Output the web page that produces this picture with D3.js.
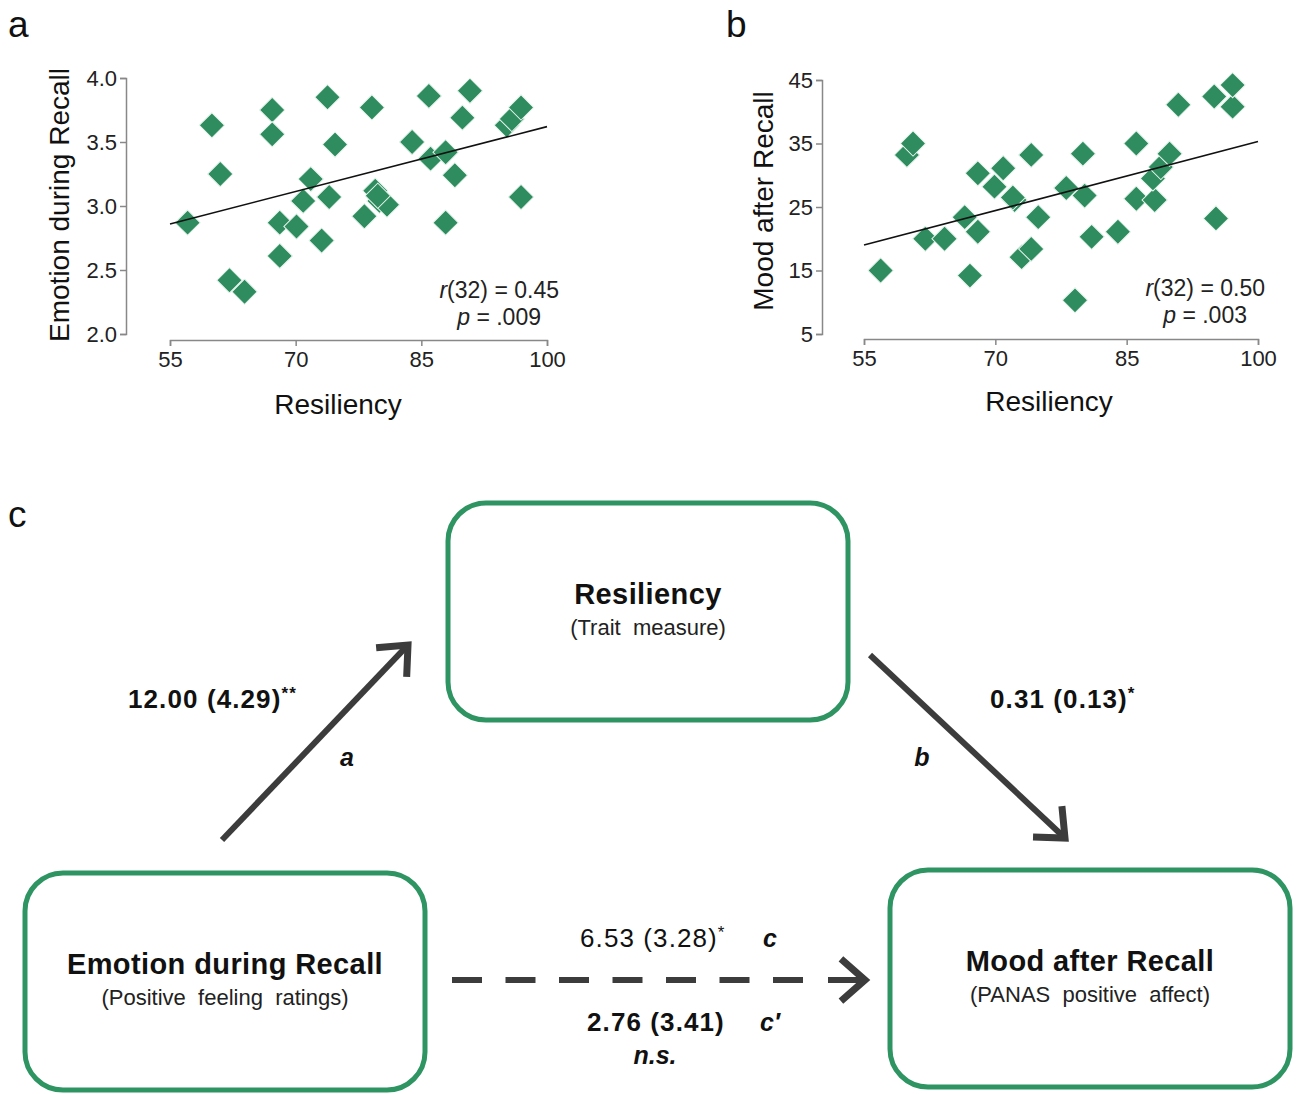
<!DOCTYPE html>
<html>
<head>
<meta charset="utf-8">
<script src="https://cdn.jsdelivr.net/npm/d3@7"></script>
<style>
  body { margin: 0; background: #fff; }
  svg { display: block; font-family: "Liberation Sans", Arial, sans-serif; }
</style>
</head>
<body>
<div id="chart"></div>
<script>
// panel a : resiliency vs emotion during recall
var resA = [57.1, 60.0, 61.0, 62.1, 63.9, 67.2, 67.2, 68.1, 68.1, 70.1, 70.9, 71.8, 73.1, 73.8, 74.0, 74.7, 78.2,
            79.1, 79.5, 80.0, 80.9, 79.8, 83.9, 85.9, 86.1, 87.9, 87.9, 89.0, 89.9, 90.8, 95.2, 95.8, 96.9, 96.9];
var emoA = [2.87, 3.63, 3.25, 2.42, 2.33, 3.75, 3.56, 2.87, 2.61, 2.84, 3.04, 3.21, 2.73, 3.85, 3.07, 3.48, 2.92,
            3.77, 3.12, 3.04, 3.01, 3.08, 3.50, 3.86, 3.37, 3.42, 2.87, 3.24, 3.69, 3.90, 3.63, 3.68, 3.77, 3.07];
// panel b : resiliency vs mood after recall
var resB = [56.9, 59.9, 60.6, 62.0, 64.2, 66.5, 67.1, 68.0, 68.0, 69.9, 70.9, 72.2, 73.0, 74.1, 74.1, 74.9, 78.1,
            79.1, 80.0, 80.2, 81.0, 84.0, 86.1, 86.1, 88.2, 88.0, 88.9, 89.9, 90.9, 95.2, 95.0, 97.1, 97.1, 72.0];
var moodB = [15.0, 33.2, 35.0, 20.0, 20.0, 23.4, 14.2, 30.3, 21.1, 28.2, 31.1, 26.1, 17.1, 18.4, 33.2, 23.4, 28.0,
             10.3, 33.4, 26.8, 20.3, 21.1, 35.0, 26.3, 26.1, 29.5, 31.3, 33.4, 41.1, 23.2, 42.4, 40.8, 44.2, 26.5];

var xTicks = [55, 70, 85, 100];
var yTicksA = [2.0, 2.5, 3.0, 3.5, 4.0];
var yTicksB = [5, 15, 25, 35, 45];
// fitted line, value at x = 55 and x = 100
var fitA = [2.86, 3.62];
var fitB = [19.0, 35.3];
var statsA = ["(32) = 0.45", " = .009"];
var statsB = ["(32) = 0.50", " = .003"];

// panel c : mediation model
var boxTitles = ["Resiliency", "Emotion during Recall", "Mood after Recall"];
var boxSubs = ["(Trait  measure)", "(Positive  feeling  ratings)", "(PANAS  positive  affect)"];
var pathA = ["12.00 (4.29)", "**", "a"];
var pathB = ["0.31 (0.13)", "*", "b"];
var pathC = ["6.53 (3.28)", "*", "c"];
var pathCp = ["2.76 (3.41)", "", "c\u2032", "n.s."];

var green = "#2e9462";
var dotGreen = "#2f8c5f";
var dark = "#3c3c3c";

var svg = d3.select("#chart").append("svg")
  .attr("width", 1298)
  .attr("height", 1094);

function scatter(cfg) {
  var g = svg.append("g");
  var x = d3.scaleLinear().domain([55, 100]).range(cfg.xr);
  var y = d3.scaleLinear().domain(cfg.yd).range(cfg.yr);

  g.append("text")
    .attr("x", cfg.letter[0]).attr("y", cfg.letter[1])
    .style("font-size", "37px").attr("fill", "#111")
    .text(cfg.name);

  var ya = g.append("g")
    .attr("transform", "translate(" + cfg.yAxisX + ",0)")
    .call(d3.axisLeft(y).tickValues(cfg.yticks).tickFormat(cfg.fmt).tickSize(6).tickPadding(3));
  var xa = g.append("g")
    .attr("transform", "translate(0," + cfg.xAxisY + ")")
    .call(d3.axisBottom(x).tickValues(xTicks).tickSize(6).tickPadding(5));
  [ya, xa].forEach(function(a) {
    a.select(".domain").attr("stroke", "#888").attr("stroke-width", 1.5);
    a.selectAll(".tick line").attr("stroke", "#888").attr("stroke-width", 1.5);
    a.selectAll(".tick text").attr("fill", "#222").style("font-size", "22px")
      .style("font-family", "Liberation Sans, Arial, sans-serif");
  });

  g.append("text")
    .attr("transform", "translate(" + cfg.ylab[0] + "," + cfg.ylab[1] + ") rotate(-90)")
    .attr("text-anchor", "middle")
    .style("font-size", "28px").attr("fill", "#111")
    .text(cfg.ytitle);
  g.append("text")
    .attr("x", cfg.xlab[0]).attr("y", cfg.xlab[1])
    .attr("text-anchor", "middle")
    .style("font-size", "28px").attr("fill", "#111")
    .text("Resiliency");

  var pts = cfg.xs.map(function(v, i) { return [v, cfg.ys[i]]; });
  g.selectAll("path.pt").data(pts).enter().append("path")
    .attr("class", "pt")
    .attr("d", d3.symbol().type(d3.symbolSquare).size(320))
    .attr("transform", function(d) { return "translate(" + x(d[0]) + "," + y(d[1]) + ") rotate(45)"; })
    .attr("fill", dotGreen)
    .attr("stroke", "#e8f5ee")
    .attr("stroke-width", 1);

  g.append("line")
    .attr("x1", x(55)).attr("y1", y(cfg.fit[0]))
    .attr("x2", x(100)).attr("y2", y(cfg.fit[1]))
    .attr("stroke", "#111").attr("stroke-width", 1.6);

  var st = g.append("g").style("font-size", "23px").attr("fill", "#222").attr("text-anchor", "end");
  var t1 = st.append("text").attr("x", cfg.stat[0]).attr("y", cfg.stat[1]);
  t1.append("tspan").style("font-style", "italic").text("r");
  t1.append("tspan").text(cfg.stats[0]);
  var t2 = st.append("text").attr("x", cfg.stat[0] - 18).attr("y", cfg.stat[1] + 27);
  t2.append("tspan").style("font-style", "italic").text("p");
  t2.append("tspan").text(cfg.stats[1]);
}

scatter({
  name: "a", letter: [8, 37],
  xr: [170, 547], yd: [2, 4], yr: [334, 78],
  yAxisX: 126, xAxisY: 340,
  yticks: yTicksA, fmt: d3.format(".1f"),
  ylab: [69, 205], ytitle: "Emotion during Recall",
  xlab: [338, 414],
  xs: resA, ys: emoA, fit: fitA, stats: statsA, stat: [559, 298]
});

scatter({
  name: "b", letter: [726, 37],
  xr: [864, 1258], yd: [5, 45], yr: [334, 80],
  yAxisX: 822, xAxisY: 339,
  yticks: yTicksB, fmt: d3.format("d"),
  ylab: [773, 201], ytitle: "Mood after Recall",
  xlab: [1049, 411],
  xs: resB, ys: moodB, fit: fitB, stats: statsB, stat: [1265, 296]
});

// ---- panel c
var c = svg.append("g");
c.append("text").attr("x", 8).attr("y", 527)
  .style("font-size", "37px").attr("fill", "#111").text("c");

var boxPos = [[448, 503], [25, 873], [890, 870]];
var bw = 400, bh = 217;
boxPos.forEach(function(p, i) {
  c.append("rect")
    .attr("x", p[0]).attr("y", p[1]).attr("width", bw).attr("height", bh)
    .attr("rx", 38).attr("ry", 38)
    .attr("fill", "#fff").attr("stroke", green).attr("stroke-width", 5);
  var cx = p[0] + bw / 2, cy = p[1] + bh / 2;
  c.append("text").attr("x", cx).attr("y", cy - 8)
    .attr("text-anchor", "middle").style("font-size", "29px").style("font-weight", "bold")
    .style("letter-spacing", "0.4px")
    .attr("fill", "#111").text(boxTitles[i]);
  c.append("text").attr("x", cx).attr("y", cy + 23)
    .attr("text-anchor", "middle").style("font-size", "22px").style("white-space", "pre")
    .attr("fill", "#222").text(boxSubs[i]);
});

function arrow(x1, y1, x2, y2, dash) {
  var ang = Math.atan2(y2 - y1, x2 - x1);
  var len = 32, spread = 0.72;
  c.append("line")
    .attr("x1", x1).attr("y1", y1)
    .attr("x2", x2 - 3 * Math.cos(ang)).attr("y2", y2 - 3 * Math.sin(ang))
    .attr("stroke", dark).attr("stroke-width", 6)
    .attr("stroke-dasharray", dash || null);
  var p = d3.path();
  p.moveTo(x2 - len * Math.cos(ang - spread), y2 - len * Math.sin(ang - spread));
  p.lineTo(x2, y2);
  p.lineTo(x2 - len * Math.cos(ang + spread), y2 - len * Math.sin(ang + spread));
  c.append("path").attr("d", p.toString())
    .attr("fill", "none").attr("stroke", dark).attr("stroke-width", 7)
    .attr("stroke-linejoin", "miter");
}

arrow(222, 840, 408, 645);
arrow(870, 655, 1065, 838);
// dashed direct path, dashes then solid tip
c.append("line")
  .attr("x1", 452).attr("y1", 980).attr("x2", 806).attr("y2", 980)
  .attr("stroke", dark).attr("stroke-width", 6).attr("stroke-dasharray", "30,23.5");
arrow(828, 980, 865, 980);

function coef(x, y, parts, weight, anchor) {
  var t = c.append("text").attr("x", x).attr("y", y)
    .attr("text-anchor", anchor || "start")
    .style("font-size", "26px").style("font-weight", weight)
    .style("letter-spacing", "1.1px").attr("fill", "#111");
  t.append("tspan").text(parts[0]);
  if (parts[1]) t.append("tspan").attr("dy", -9).style("font-size", "17px").text(parts[1]);
}
function pathLetter(x, y, s) {
  c.append("text").attr("x", x).attr("y", y).attr("text-anchor", "middle")
    .style("font-size", "25px").style("font-weight", "bold").style("font-style", "italic")
    .attr("fill", "#111").text(s);
}

coef(128, 708, pathA, "bold");
pathLetter(347, 766, pathA[2]);
coef(990, 708, pathB, "bold");
pathLetter(922, 766, pathB[2]);
coef(580, 947, pathC, "normal");
pathLetter(770, 947, pathC[2]);
coef(587, 1031, pathCp, "bold");
pathLetter(770, 1031, pathCp[2]);
pathLetter(655, 1064, pathCp[3]);
</script>
</body>
</html>
